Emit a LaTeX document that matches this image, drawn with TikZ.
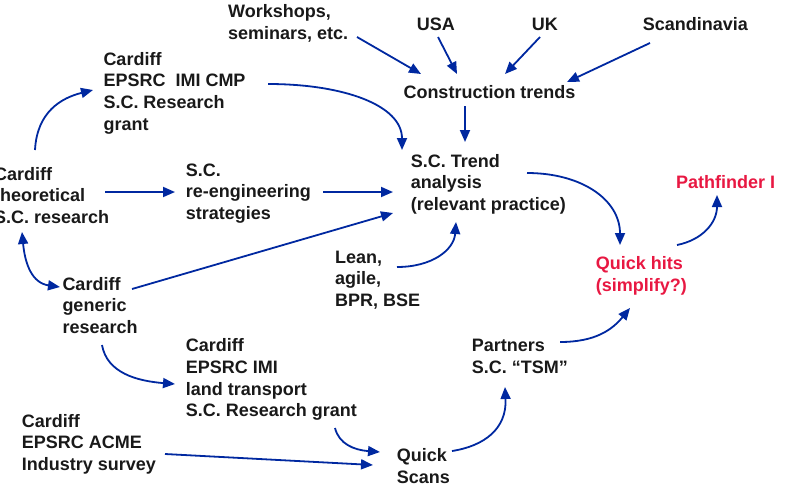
\documentclass[tikz,border=0pt]{standalone}
\usepackage{fontspec}
\setmainfont{Liberation Sans}
\usetikzlibrary{arrows.meta}
\definecolor{arrowblue}{RGB}{0,40,160}
\definecolor{hitred}{RGB}{232,24,66}
\definecolor{ink}{RGB}{25,25,25}
\begin{document}
\begin{tikzpicture}[x=1pt,y=-1pt,
  lbl/.style={anchor=base west,inner sep=0pt,align=left,text=ink,
    font=\fontsize{18}{21.7}\selectfont\bfseries},
  hot/.style={lbl,text=hitred},
  arr/.style={draw=arrowblue,line width=1.8pt,
    -{Triangle[length=12pt,width=10pt]}},
  darr/.style={arr,{Triangle[length=12pt,width=10pt]}-{Triangle[length=12pt,width=10pt]}}]
\useasboundingbox (0,0) rectangle (786,488);

% labels (each placed at the baseline of its last line)
\node[lbl] (ws)    at (228,39.2)    {Workshops,\\seminars, etc.};
\node[lbl] (usa)   at (416.7,30.5)  {USA};
\node[lbl] (uk)    at (531.7,30.5)  {UK};
\node[lbl] (scan)  at (642.7,30.5)  {Scandinavia};
\node[lbl] (ct)    at (403.3,98)    {Construction trends};
\node[lbl] (trend) at (410.7,210.4) {S.C. Trend\\analysis\\(relevant practice)};
\node[hot] (pf)    at (676,188)     {Pathfinder I};
\node[lbl] (cmp)   at (103.3,130.1) {Cardiff\\EPSRC\ \ IMI CMP\\S.C. Research\\grant};
\node[lbl] (theo)  at (-6,223.4)    {Cardiff\\theoretical\\S.C. research};
\node[lbl] (reeng) at (185.7,219.4) {S.C.\\re-engineering\\strategies};
\node[lbl] (lean)  at (335,306.4)   {Lean,\\agile,\\BPR, BSE};
\node[lbl] (gen)   at (62.3,333.4)  {Cardiff\\generic\\research};
\node[hot] (qh)    at (595.7,291)   {Quick hits\\(simplify?)};
\node[lbl] (land)  at (185.7,416.8) {Cardiff\\EPSRC IMI\\land transport\\S.C. Research grant};
\node[lbl] (part)  at (471.7,373.4) {Partners\\S.C. “TSM”};
\node[lbl] (acme)  at (21.7,470.4)  {Cardiff\\EPSRC ACME\\Industry survey};
\node[lbl] (qs)    at (396.7,483.4) {Quick\\Scans};

% connectors into construction trends
\draw[arr] ([shift={(129,-2.2)}]ws.base west) -- ([shift={(17.7,-24)}]ct.base west);
\draw[arr] ([shift={(21.3,6.5)}]usa.base west) -- ([shift={(53.7,-24)}]ct.base west);
\draw[arr] ([shift={(8.3,6.5)}]uk.base west) -- ([shift={(101.7,-24)}]ct.base west);
\draw[arr] ([shift={(7.3,12.5)}]scan.base west) -- ([shift={(163.7,-16)}]ct.base west);
\draw[arr] ([shift={(61.7,8)}]ct.base west) -- ([shift={(54.3,-68.4)}]trend.base west);

% connectors into trend analysis
\draw[arr] ([shift={(164.7,-46.1)}]cmp.base west) .. controls +(75,0) and +(0,-45) .. ([shift={(-8.7,-60.4)}]trend.base west);
\draw[arr] ([shift={(137.3,-27.4)}]reeng.base west) -- ([shift={(-17.7,-18.4)}]trend.base west);
\draw[arr] ([shift={(69.7,-44.4)}]gen.base west) -- ([shift={(-17.7,2.6)}]trend.base west);
\draw[arr] ([shift={(62,-39.4)}]lean.base west) .. controls +(35,0) and +(-2,28) .. ([shift={(45.3,11.6)}]trend.base west);

% theoretical research branches
\draw[arr] ([shift={(111,-31.4)}]theo.base west) -- ([shift={(-10.7,-27.4)}]reeng.base west);
\draw[arr] ([shift={(41,-73.4)}]theo.base west) .. controls +(2,-38) and +(-32,8) .. ([shift={(-10.3,-40.1)}]cmp.base west);
\draw[darr] ([shift={(28,8.6)}]theo.base west) .. controls +(3,32) and +(-28,-4) .. ([shift={(-2.3,-46.4)}]gen.base west);

% quick hits and pathfinder
\draw[arr] ([shift={(116.3,-37.4)}]trend.base west) .. controls +(55,0) and +(0,-45) .. ([shift={(24.3,-46)}]qh.base west);
\draw[arr] ([shift={(81.3,-46)}]qh.base west) .. controls +(25,-5) and +(0,28) .. ([shift={(41,7)}]pf.base west);
\draw[arr] ([shift={(88.3,-31.4)}]part.base west) .. controls +(35,0) and +(-18,22) .. ([shift={(34.3,17)}]qh.base west);

% lower branch towards quick scans
\draw[arr] ([shift={(39.7,11.6)}]gen.base west) .. controls +(5,28) and +(-38,-3) .. ([shift={(-10.7,-32.8)}]land.base west);
\draw[arr] ([shift={(149.3,11.2)}]land.base west) .. controls +(4,16) and +(-26,-2) .. ([shift={(-16.7,-31.4)}]qs.base west);
\draw[arr] ([shift={(143.3,-16.4)}]acme.base west) -- ([shift={(-23.7,-18.4)}]qs.base west);
\draw[arr] ([shift={(55.3,-32.4)}]qs.base west) .. controls +(32,-5) and +(2,42) .. ([shift={(33.3,13.6)}]part.base west);
\end{tikzpicture}
\end{document}
